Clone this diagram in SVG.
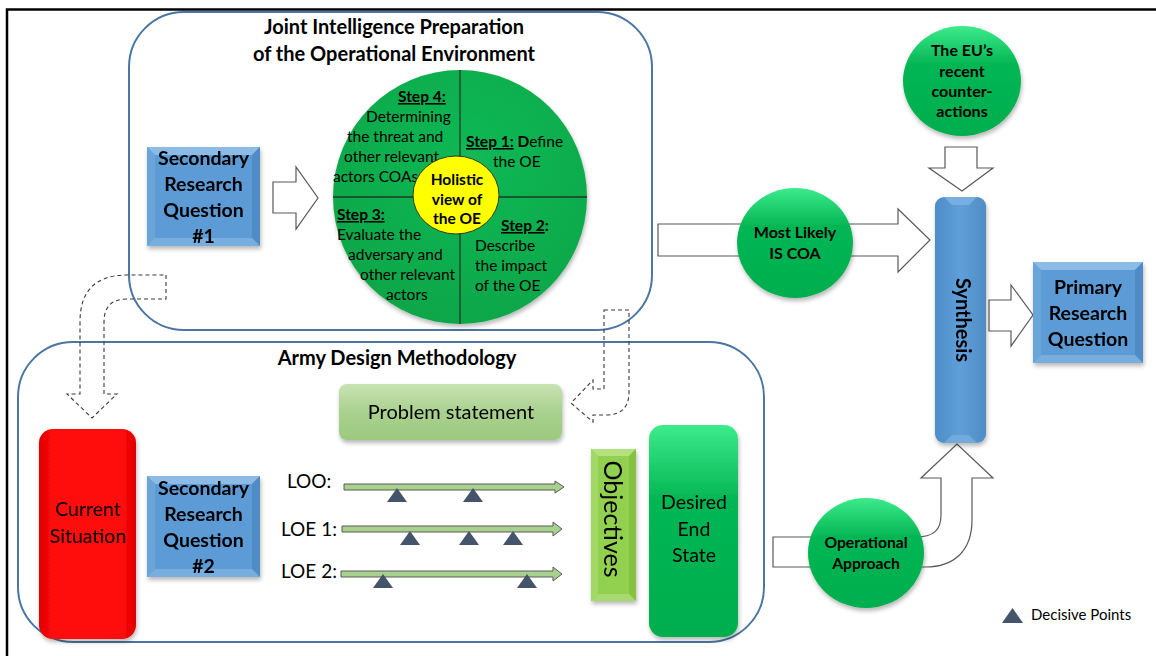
<svg xmlns="http://www.w3.org/2000/svg" width="1156" height="656" viewBox="0 0 1156 656">
  <defs>
    <style>
      .t{font-family:Lato,'Liberation Sans',sans-serif;fill:#000}
      .b{font-weight:bold}
      .c{text-anchor:middle}
      .frame{fill:none;stroke:#4A76A3;stroke-width:2}
      .blk{fill:#fff;stroke:#595959;stroke-width:1.2;stroke-linejoin:miter}
      .dash{fill:none;stroke:#3A3A3A;stroke-width:1.1;stroke-dasharray:4 3}
      .dp{fill:#44546A}
      .lin{fill:#A9D18E;stroke:#5A5A5A;stroke-width:1}
      .step{font-size:15.5px}
      .sq{font-size:19.5px}
      .ttl{font-size:20px}
      .bv1{fill:#8CBBE6}
      .bv2{fill:#4F8CC6}
      .bv3{fill:#6AA5DA}
      .bv4{fill:#78AEDE}
    </style>
    <linearGradient id="gGreen" x1="0" y1="0" x2="0" y2="1">
      <stop offset="0" stop-color="#3CEB8C"/>
      <stop offset="0.35" stop-color="#04B653"/>
      <stop offset="1" stop-color="#02AE4E"/>
    </linearGradient>
    <radialGradient id="gPie" cx="0.55" cy="0.35" r="0.7">
      <stop offset="0" stop-color="#12B955"/>
      <stop offset="1" stop-color="#0AA548"/>
    </radialGradient>
    <linearGradient id="gRed" x1="0" y1="0" x2="1" y2="0">
      <stop offset="0" stop-color="#E00000"/>
      <stop offset="0.15" stop-color="#FF0A0A"/>
      <stop offset="0.85" stop-color="#FF0A0A"/>
      <stop offset="1" stop-color="#E00000"/>
    </linearGradient>
    <linearGradient id="gProb" x1="0" y1="0" x2="0" y2="1">
      <stop offset="0" stop-color="#C8E3B2"/>
      <stop offset="0.5" stop-color="#A9D18E"/>
      <stop offset="1" stop-color="#9CC97F"/>
    </linearGradient>
    <linearGradient id="gBar" x1="0" y1="0" x2="1" y2="0">
      <stop offset="0" stop-color="#4E8DC8"/>
      <stop offset="0.5" stop-color="#5F9FD8"/>
      <stop offset="1" stop-color="#4F8CC6"/>
    </linearGradient>
    <filter id="sh" x="-20%" y="-20%" width="140%" height="140%">
      <feDropShadow dx="1" dy="3" stdDeviation="2" flood-color="#000" flood-opacity="0.28"/>
    </filter>
  </defs>

  <rect width="1156" height="656" fill="#fff"/>
  <!-- outer frame: left and top rules only -->
  <path d="M7,656 V9.5 H1156" fill="none" stroke="#000" stroke-width="2.5"/>

  <!-- grouping frames -->
  <g id="jipoe-frame">
    <rect class="frame" x="129" y="12" width="523" height="318" rx="55"/>
    <text class="t b c ttl" x="394" y="34">Joint Intelligence Preparation</text>
    <text class="t b c ttl" x="394" y="61">of the Operational Environment</text>
  </g>
  <g id="adm-frame">
    <rect class="frame" x="18" y="342" width="746" height="300" rx="55"/>
    <text class="t b c ttl" x="397" y="365">Army Design Methodology</text>
  </g>

  <!-- connectors -->
  <g id="connectors">
    <path class="blk" d="M273,182 H296 V167 L318,198 L296,229 V213 H273 Z"/>
    <path class="blk" d="M658,224 H898 V209 L930,240 L898,272 V256 H658 Z"/>
    <path class="blk" d="M945,147 H977 V168 H993 L962,191 L929,168 H945 Z"/>
    <path class="blk" d="M989,300 H1011 V285 L1033,315 L1011,346 V331 H989 Z"/>
    <path class="blk" d="M773,537 H915 C934,537 941,530 941,515 V478 H921 L957,444 L993,478 H972 V520 C972,550 955,567 925,567 H773 Z"/>
    <path class="dash" d="M166,275 V299 H127 Q104,299 104,322 V394 H117 L92,418 L67,394 H80 V322 Q80,275 127,275 Z"/>
    <path class="dash" d="M604,310 H629 V392 Q629,415 606,415 H593 V422 L571,403 L593,380 V389 H604 Z"/>
  </g>

  <!-- Secondary Research Question #1 -->
  <g id="srq1" filter="url(#sh)">
    <rect x="147" y="147" width="113" height="99" fill="#5B9BD5"/>
    <polygon class="bv1" points="147,147 260,147 252,155 155,155"/>
    <polygon class="bv3" points="147,147 155,155 155,238 147,246"/>
    <polygon class="bv2" points="260,147 260,246 252,238 252,155"/>
    <polygon class="bv4" points="147,246 155,238 252,238 260,246"/>
    <text class="t b c sq" x="203.5" y="165">Secondary</text>
    <text class="t b c sq" x="203.5" y="191">Research</text>
    <text class="t b c sq" x="203.5" y="217">Question</text>
    <text class="t b c sq" x="203.5" y="243">#1</text>
  </g>

  <!-- JIPOE four-step wheel -->
  <g id="jipoe-wheel">
    <circle cx="460" cy="197" r="127" fill="url(#gPie)" filter="url(#sh)"/>
    <path d="M460,70 V324 M333,197 H587" stroke="#1E3A28" stroke-width="1.3"/>
    <text class="t step" x="398" y="102"><tspan class="b" text-decoration="underline">Step 4:</tspan></text>
    <text class="t step" x="366" y="122">Determining</text>
    <text class="t step" x="347" y="142">the threat and</text>
    <text class="t step" x="344" y="162">other relevant</text>
    <text class="t step" x="333" y="182">actors COAs</text>
    <text class="t step" x="466" y="147"><tspan class="b" text-decoration="underline">Step 1:</tspan><tspan class="b"> D</tspan>efine</text>
    <text class="t step" x="493" y="167">the OE</text>
    <text class="t step" x="501" y="231"><tspan class="b" text-decoration="underline">Step 2</tspan><tspan class="b">:</tspan></text>
    <text class="t step" x="475" y="251">Describe</text>
    <text class="t step" x="475" y="271">the impact</text>
    <text class="t step" x="475" y="291">of the OE</text>
    <text class="t step" x="337" y="220"><tspan class="b" text-decoration="underline">Step 3:</tspan></text>
    <text class="t step" x="337" y="240">Evaluate the</text>
    <text class="t step" x="348" y="260">adversary and</text>
    <text class="t step" x="360" y="280">other relevant</text>
    <text class="t step" x="386" y="300">actors</text>
  </g>
  <g id="holistic">
    <ellipse cx="456" cy="195" rx="43" ry="39" fill="#FFFF00" stroke="#3A3A1A" stroke-width="1"/>
    <text class="t b c" x="457" y="185" font-size="15.5">Holistic</text>
    <text class="t b c" x="457" y="205" font-size="15.5">view of</text>
    <text class="t b c" x="457" y="224" font-size="15.5">the OE</text>
  </g>

  <!-- right-hand chain -->
  <g id="most-likely">
    <ellipse cx="795" cy="243" rx="58" ry="55" fill="url(#gGreen)" filter="url(#sh)"/>
    <text class="t b c" x="795" y="238" font-size="16">Most Likely</text>
    <text class="t b c" x="795" y="259" font-size="16">IS COA</text>
  </g>
  <g id="eu-counter">
    <ellipse cx="962" cy="81" rx="59" ry="55" fill="url(#gGreen)" filter="url(#sh)"/>
    <text class="t b c" x="962" y="56" font-size="16">The EU’s</text>
    <text class="t b c" x="962" y="77" font-size="16">recent</text>
    <text class="t b c" x="962" y="97" font-size="16">counter-</text>
    <text class="t b c" x="962" y="117" font-size="16">actions</text>
  </g>
  <g id="synthesis" filter="url(#sh)">
    <rect x="935" y="197" width="51" height="246" rx="9" fill="url(#gBar)"/>
    <path d="M944,197 H977 L969,205 H952 Z" fill="#7FB3E2" opacity="0.8"/>
    <path d="M944,443 H977 L969,435 H952 Z" fill="#78AEDE" opacity="0.8"/>
    <text class="t b c" x="0" y="0" font-size="20" transform="translate(956,320) rotate(90)">Synthesis</text>
  </g>
  <g id="primary-rq" filter="url(#sh)">
    <rect x="1033" y="262" width="110" height="101" fill="#5B9BD5"/>
    <polygon class="bv1" points="1033,262 1143,262 1135,270 1041,270"/>
    <polygon class="bv3" points="1033,262 1041,270 1041,355 1033,363"/>
    <polygon class="bv2" points="1143,262 1143,363 1135,355 1135,270"/>
    <polygon class="bv4" points="1033,363 1041,355 1135,355 1143,363"/>
    <text class="t b c sq" x="1088" y="294">Primary</text>
    <text class="t b c sq" x="1088" y="320">Research</text>
    <text class="t b c sq" x="1088" y="346">Question</text>
  </g>

  <!-- Army Design Methodology contents -->
  <g id="problem-statement" filter="url(#sh)">
    <rect x="339" y="384" width="223" height="56" rx="8" fill="url(#gProb)"/>
    <text class="t c" x="451" y="419" font-size="20">Problem statement</text>
  </g>
  <g id="current-situation" filter="url(#sh)">
    <rect x="39" y="429" width="97" height="210" rx="14" fill="url(#gRed)"/>
    <text class="t c" x="88" y="516" font-size="19.5" fill="#1a0000">Current</text>
    <text class="t c" x="88" y="543" font-size="19.5" fill="#1a0000">Situation</text>
  </g>
  <g id="srq2" filter="url(#sh)">
    <rect x="147" y="476" width="113" height="101" fill="#5B9BD5"/>
    <polygon class="bv1" points="147,476 260,476 252,484 155,484"/>
    <polygon class="bv3" points="147,476 155,484 155,569 147,577"/>
    <polygon class="bv2" points="260,476 260,577 252,569 252,484"/>
    <polygon class="bv4" points="147,577 155,569 252,569 260,577"/>
    <text class="t b c sq" x="203.5" y="495">Secondary</text>
    <text class="t b c sq" x="203.5" y="521">Research</text>
    <text class="t b c sq" x="203.5" y="547">Question</text>
    <text class="t b c sq" x="203.5" y="573">#2</text>
  </g>

  <g id="lines-of-effort">
    <text class="t" x="287" y="488" font-size="19">LOO:</text>
    <text class="t" x="281" y="536" font-size="19">LOE 1:</text>
    <text class="t" x="281" y="578" font-size="19">LOE 2:</text>
    <path class="lin" d="M344,484 H555 V481 L564,487 L555,493 V490 H344 Z"/>
    <path class="lin" d="M342,526 H553 V522 L562,529 L553,536 V532 H342 Z"/>
    <path class="lin" d="M341,571 H553 V567 L562,574 L553,581 V577 H341 Z"/>
    <polygon class="dp" points="387,502 397,488 407,502"/>
    <polygon class="dp" points="463,502 473,488 483,502"/>
    <polygon class="dp" points="400,545 410,531 420,545"/>
    <polygon class="dp" points="459,545 469,531 479,545"/>
    <polygon class="dp" points="503,545 513,531 523,545"/>
    <polygon class="dp" points="373,588 383,574 393,588"/>
    <polygon class="dp" points="517,588 527,574 537,588"/>
  </g>

  <g id="objectives" filter="url(#sh)">
    <rect x="591" y="449" width="45" height="152" fill="#92D050"/>
    <polygon points="591,449 636,449 629,456 598,456" fill="#B4E07E"/>
    <polygon points="591,449 598,456 598,594 591,601" fill="#A2D866"/>
    <polygon points="636,449 636,601 629,594 629,456" fill="#84C240"/>
    <polygon points="591,601 598,594 629,594 636,601" fill="#A6DA6C"/>
    <text class="t c" x="0" y="0" font-size="25" transform="translate(604,519) rotate(90)">Objectives</text>
  </g>
  <g id="desired-end-state" filter="url(#sh)">
    <rect x="649" y="425" width="89" height="212" rx="14" fill="url(#gGreen)"/>
    <text class="t c" x="694" y="509" font-size="19.5">Desired</text>
    <text class="t c" x="694" y="536" font-size="19.5">End</text>
    <text class="t c" x="694" y="562" font-size="19.5">State</text>
  </g>

  <g id="operational-approach">
    <ellipse cx="866" cy="553" rx="58" ry="55" fill="url(#gGreen)" filter="url(#sh)"/>
    <text class="t b c" x="866" y="548" font-size="15.7">Operational</text>
    <text class="t b c" x="866" y="569" font-size="15.7">Approach</text>
  </g>

  <g id="legend">
    <polygon class="dp" points="1002,623 1012.5,608 1023,623"/>
    <text class="t" x="1031" y="620" font-size="15">Decisive Points</text>
  </g>
</svg>
